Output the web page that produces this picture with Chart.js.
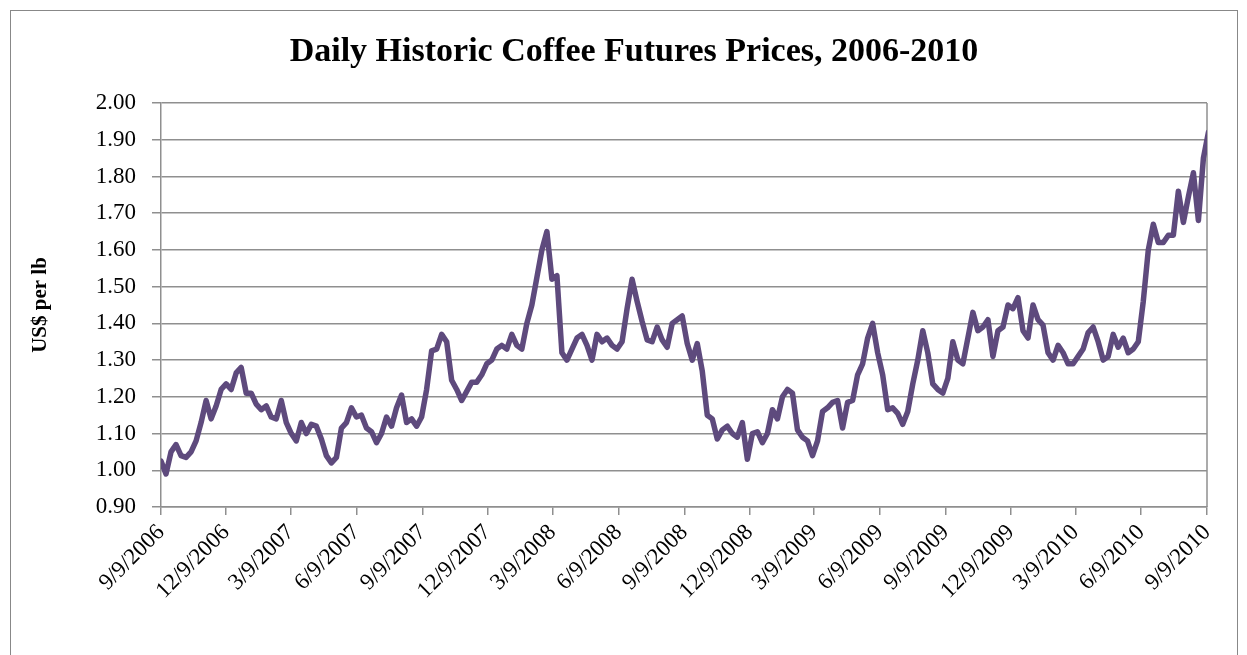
<!DOCTYPE html>
<html>
<head>
<meta charset="utf-8">
<script src="https://cdn.jsdelivr.net/npm/chart.js@4.4.1/dist/chart.umd.min.js"></script>
<style>
  html, body { margin: 0; padding: 0; background: #fff; }
  #wrap { position: relative; width: 1247px; height: 655px; overflow: hidden; }
  #frame { position: absolute; left: 10px; top: 10px; width: 1226px; height: 700px; border: 1px solid #888; }
  #chartBox { position: absolute; left: 0; top: 0; width: 1247px; height: 655px; }
</style>
</head>
<body>
<div id="wrap">
  <div id="frame"></div>
  <div id="chartBox"><canvas id="chartCoffee"></canvas></div>
</div>
<script>
// weekly closing prices (US$/lb), first week starts 9/9/2006
const START_DATE = "9/9/2006";
const END_DATE = "9/9/2010";
const DAYS_PER_POINT = 7;

const PRICES = [
  1.025, 0.99, 1.05, 1.07, 1.04, 1.035, 1.05, 1.08, 1.13, 1.19,
  1.14, 1.175, 1.22, 1.235, 1.22, 1.265, 1.28, 1.21, 1.21, 1.18,
  1.165, 1.175, 1.145, 1.14, 1.19, 1.13, 1.10, 1.08, 1.13, 1.10,
  1.125, 1.12, 1.085, 1.04, 1.02, 1.035, 1.115, 1.13, 1.17, 1.145,
  1.15, 1.115, 1.105, 1.075, 1.10, 1.145, 1.12, 1.17, 1.205, 1.13,
  1.14, 1.12, 1.145, 1.22, 1.325, 1.33, 1.37, 1.35, 1.245, 1.22,
  1.19, 1.215, 1.24, 1.24, 1.26, 1.29, 1.30, 1.33, 1.34, 1.33,
  1.37, 1.34, 1.33, 1.40, 1.45, 1.525, 1.60, 1.65, 1.52, 1.53,
  1.32, 1.30, 1.33, 1.36, 1.37, 1.34, 1.30, 1.37, 1.35, 1.36,
  1.34, 1.33, 1.35, 1.44, 1.52, 1.46, 1.405, 1.355, 1.35, 1.39,
  1.355, 1.335, 1.40, 1.41, 1.42, 1.345, 1.30, 1.345, 1.27, 1.15,
  1.14, 1.085, 1.11, 1.12, 1.10, 1.09, 1.13, 1.03, 1.10, 1.105,
  1.075, 1.10, 1.165, 1.14, 1.20, 1.22, 1.21, 1.11, 1.09, 1.08,
  1.04, 1.08, 1.16, 1.17, 1.185, 1.19, 1.115, 1.185, 1.19, 1.26,
  1.29, 1.36, 1.40, 1.32, 1.26, 1.165, 1.17, 1.155, 1.125, 1.16,
  1.235, 1.30, 1.38, 1.32, 1.235, 1.22, 1.21, 1.25, 1.35, 1.30,
  1.29, 1.36, 1.43, 1.38, 1.39, 1.41, 1.31, 1.38, 1.39, 1.45,
  1.44, 1.47, 1.38, 1.36, 1.45, 1.41, 1.395, 1.32, 1.30, 1.34,
  1.32, 1.29, 1.29, 1.31, 1.33, 1.375, 1.39, 1.35, 1.30, 1.31,
  1.37, 1.335, 1.36, 1.32, 1.33, 1.35, 1.46, 1.60, 1.67, 1.62,
  1.62, 1.64, 1.64, 1.76, 1.675, 1.745, 1.81, 1.68, 1.85, 1.92,
];

const X_LABELS = [
  "9/9/2006", "12/9/2006", "3/9/2007", "6/9/2007", "9/9/2007", "12/9/2007",
  "3/9/2008", "6/9/2008", "9/9/2008", "12/9/2008", "3/9/2009", "6/9/2009",
  "9/9/2009", "12/9/2009", "3/9/2010", "6/9/2010", "9/9/2010",
];

const Y_TICKS = [0.9, 1.0, 1.1, 1.2, 1.3, 1.4, 1.5, 1.6, 1.7, 1.8, 1.9, 2.0];

const TITLE = "Daily Historic Coffee Futures Prices, 2006-2010";

const GRID_COLOR = "#8f8f8f";
const LINE_COLOR = "#5e4a7d";
const SERIF = "'Liberation Serif', 'Times New Roman', serif";

// m/d/yyyy -> days since START_DATE
function dayOffset(label) {
  const toUtc = (s) => {
    const [m, d, y] = s.split("/").map(Number);
    return Date.UTC(y, m - 1, d);
  };
  return Math.round((toUtc(label) - toUtc(START_DATE)) / 86400000);
}

const points = PRICES.map((v, i) => ({ x: i * DAYS_PER_POINT, y: v }));
const labelAt = {};
X_LABELS.forEach((l) => { labelAt[dayOffset(l)] = l; });

// right edge of the plot area + title centred on the whole frame
const frameDecor = {
  id: "frameDecor",
  beforeDatasetsDraw(chart) {
    const { ctx, chartArea } = chart;
    ctx.save();
    ctx.strokeStyle = GRID_COLOR;
    ctx.lineWidth = 1.5;
    ctx.beginPath();
    ctx.moveTo(chartArea.right, chartArea.top);
    ctx.lineTo(chartArea.right, chartArea.bottom);
    ctx.stroke();
    ctx.restore();
  },
  afterDraw(chart) {
    const { ctx } = chart;
    ctx.save();
    ctx.fillStyle = "#000";
    ctx.font = `bold 34px ${SERIF}`;
    ctx.textAlign = "center";
    ctx.textBaseline = "alphabetic";
    ctx.fillText(TITLE, 634, 61);
    ctx.restore();
  },
};

new Chart(document.getElementById("chartCoffee"), {
  type: "line",
  data: {
    datasets: [
      {
        data: points,
        borderColor: LINE_COLOR,
        borderWidth: 5.5,
        pointRadius: 0,
        tension: 0,
        borderJoinStyle: "round",
        borderCapStyle: "round",
      },
    ],
  },
  options: {
    responsive: true,
    maintainAspectRatio: false,
    animation: false,
    layout: { padding: { left: 0, right: 40, top: 103, bottom: 0 } },
    plugins: {
      legend: { display: false },
      tooltip: { enabled: false },
      title: { display: false },
    },
    scales: {
      x: {
        type: "linear",
        min: 0,
        max: dayOffset(END_DATE),
        afterBuildTicks: (scale) => {
          scale.ticks = X_LABELS.map((l) => ({ value: dayOffset(l) }));
        },
        afterFit: (scale) => { scale.height = 148; },
        grid: { drawOnChartArea: false, drawTicks: true, tickLength: 8, color: GRID_COLOR, lineWidth: 1.5 },
        border: { display: true, color: GRID_COLOR, width: 1.5 },
        ticks: {
          autoSkip: false,
          minRotation: 45,
          maxRotation: 45,
          padding: 4,
          color: "#000",
          font: { family: SERIF, size: 23 },
          callback: (v) => labelAt[v] || "",
        },
      },
      y: {
        min: 0.9,
        max: 2.0,
        afterBuildTicks: (scale) => {
          scale.ticks = Y_TICKS.map((v) => ({ value: v }));
        },
        afterFit: (scale) => { scale.width = 161; },
        grid: { color: GRID_COLOR, lineWidth: 1.5, tickLength: 9 },
        border: { display: true, color: GRID_COLOR, width: 1.5 },
        ticks: {
          padding: 16,
          color: "#000",
          font: { family: SERIF, size: 23 },
          callback: (v) => Number(v).toFixed(2),
        },
        title: {
          display: true,
          text: "US$ per lb",
          color: "#000",
          font: { family: SERIF, size: 21, weight: "bold" },
          padding: { top: 28, bottom: 0 },
        },
      },
    },
  },
  plugins: [frameDecor],
});
</script>
</body>
</html>
